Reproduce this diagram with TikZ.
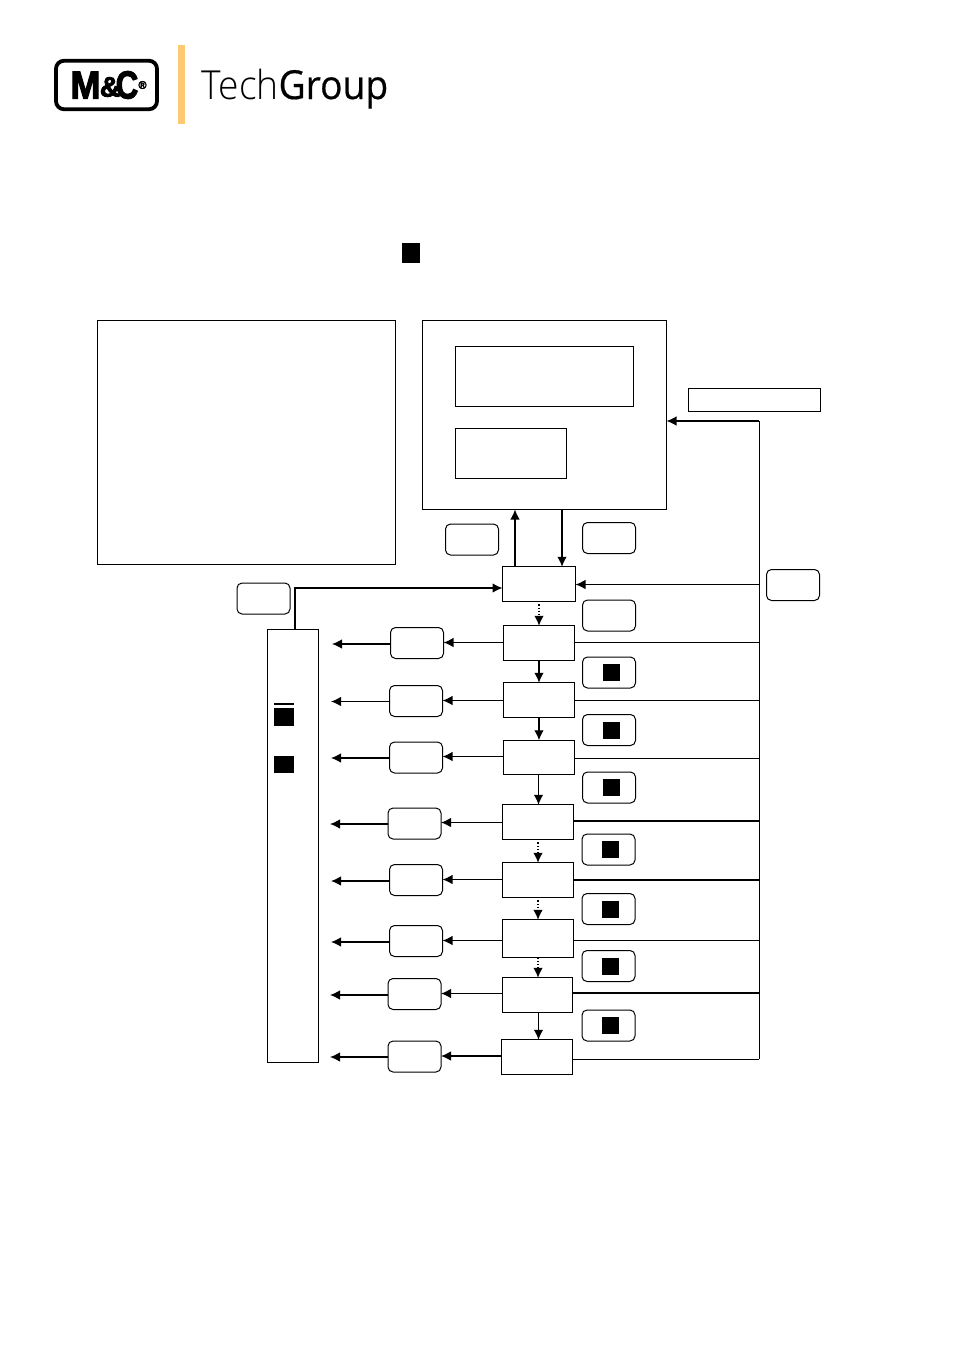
\documentclass[tikz,border=0pt]{standalone}
\usepackage{fontspec}
\usetikzlibrary{arrows.meta}
\newfontfamily\logofont[BoldFeatures={FakeBold=3}]{Liberation Sans}
\newfontfamily\techfont{Open Sans Light}
\newfontfamily\groupfont[FakeBold=0.5]{Open Sans}
\definecolor{logobar}{HTML}{FFC872}
\tikzset{
  >={Latex[length=10pt,width=9.5pt]},
  stepbox/.style={draw, line width=1pt, minimum width=70.5pt, minimum height=34.5pt, inner sep=0pt, outer sep=0pt},
  frame/.style={draw, line width=0.9pt, inner sep=0pt, outer sep=0pt},
  pill/.style={draw, line width=1pt, rounded corners=5pt, minimum width=53pt, minimum height=31pt, inner sep=0pt, outer sep=0pt},
  blackmark/.style={fill=black, minimum width=17pt, minimum height=17pt, inner sep=0pt, outer sep=0pt},
  flow/.style={->, line width=1.2pt},
  feed/.style={line width=1pt},
  feedthick/.style={line width=1.6pt},
  logoletter/.style={font=\logofont\bfseries\fontsize{39}{39}\selectfont, inner sep=0pt},
}
\begin{document}
\begin{tikzpicture}[x=1pt, y=-1pt]
\useasboundingbox (0,0) rectangle (955,1350);

% logo
\node[draw, line width=3.8pt, rounded corners=8pt, minimum width=101pt, minimum height=48.5pt, inner sep=0pt] (logoframe) at (106.5,85) {};
\node[logoletter, xscale=0.92] (logoM) at (85.5,85) {M};
\node[logoletter, xscale=0.8] (logoC) at (127,85) {C};
\node[logoletter, scale=0.72] (logoamp) at (110,87) {\&};
\node[font=\logofont\bfseries\fontsize{11}{11}\selectfont, inner sep=0pt] (logoreg) at (142.5,85) {®};
\node[fill=logobar, minimum width=7pt, minimum height=79pt, inner sep=0pt] (logobar) at (181.5,84.5) {};
\node[anchor=base west, inner sep=0pt, xscale=0.93, font=\fontsize{40}{40}\selectfont] (logotext) at (201.5,99) {{\techfont Tech}{\groupfont Group}};

% mark above the frames
\node[fill=black, minimum width=18pt, minimum height=20pt, inner sep=0pt] (headmark) at (411,253) {};

% frames
\node[frame, minimum width=298pt, minimum height=244pt] (legend) at (246.5,442.5) {};
\node[frame, minimum width=244pt, minimum height=189pt] (unit) at (544.5,415) {};
\node[frame, minimum width=178pt, minimum height=60pt] (display) at (544.5,376.5) {};
\node[frame, minimum width=111pt, minimum height=50pt] (keys) at (511,453.5) {};
\node[frame, minimum width=132pt, minimum height=23pt] (title) at (754.5,400) {};
\node[frame, minimum width=50.5pt, minimum height=433pt] (outputs) at (292.75,846) {};
\node[fill=black, minimum width=20pt, minimum height=2.5pt, inner sep=0pt] (outbar) at (284,704) {};
\node[fill=black, minimum width=20pt, minimum height=18pt, inner sep=0pt] (outmarka) at (284,717) {};
\node[fill=black, minimum width=20pt, minimum height=17pt, inner sep=0pt] (outmarkb) at (284,764.5) {};

% step boxes
\node[stepbox, minimum width=73pt] (S0) at (539,584) {};
\node[stepbox] (S1) at (539,643) {};
\node[stepbox] (S2) at (539,700) {};
\node[stepbox] (S3) at (539,757.5) {};
\node[stepbox] (S4) at (538,822) {};
\node[stepbox] (S5) at (538,880) {};
\node[stepbox, minimum height=38pt] (S6) at (538,938.75) {};
\node[stepbox, minimum width=70pt] (S7) at (537.5,995) {};
\node[stepbox] (S8) at (537,1057) {};

% keys beside the unit and the bus
\node[pill] (keyup) at (472,539.5) {};
\node[pill] (keydown) at (609,538) {};
\node[pill] (keybus) at (793,585) {};
\node[pill] (keyfeed) at (263.5,598.5) {};
\node[pill] (keynext) at (609,615.5) {};

% keys with a mark
\node[pill] (R1) at (609,672.5) {};
\node[blackmark] (M1) at (611.5,672.5) {};
\node[pill] (R2) at (609,730) {};
\node[blackmark] (M2) at (611.5,730) {};
\node[pill] (R3) at (609,787.5) {};
\node[blackmark] (M3) at (611.5,787.5) {};
\node[pill] (R4) at (608.5,849.5) {};
\node[blackmark] (M4) at (610.5,849.5) {};
\node[pill] (R5) at (608.5,909) {};
\node[blackmark] (M5) at (610.5,909) {};
\node[pill] (R6) at (608.5,966) {};
\node[blackmark] (M6) at (610.5,966) {};
\node[pill] (R7) at (608.5,1025.5) {};
\node[blackmark] (M7) at (610.5,1025.5) {};

% keys on the output side
\node[pill] (L1) at (417,643) {};
\node[pill] (L2) at (416,701) {};
\node[pill] (L3) at (416,757.5) {};
\node[pill] (L4) at (414.5,823.5) {};
\node[pill] (L5) at (416,880) {};
\node[pill] (L6) at (416,941) {};
\node[pill] (L7) at (414.5,994) {};
\node[pill] (L8) at (414.5,1056.5) {};

% free ends of the output arrows
\coordinate (E1) at (332,644);
\coordinate (E2) at (331,701.5);
\coordinate (E3) at (331,758);
\coordinate (E4) at (330,824);
\coordinate (E5) at (331,881);
\coordinate (E6) at (331,942);
\coordinate (E7) at (330,995);
\coordinate (E8) at (330,1057);

% bus on the right
\coordinate (bustop) at (759,421);
\coordinate (busend) at (759,1059);
\draw[feed] (busend) -- (bustop);
\draw[flow] (bustop) -- (bustop -| unit.east);
\draw[flow] (759,584.5) -- (S0.east |- 0,584.5);
\draw[feed] (759,642.5) -- (S1.east |- 0,642.5);
\draw[feed] (759,700.5) -- (S2.east |- 0,700.5);
\draw[feed] (759,758.5) -- (S3.east |- 0,758.5);
\draw[feedthick] (759,821) -- (S4.east |- 0,821);
\draw[feedthick] (759,880) -- (S5.east |- 0,880);
\draw[feed] (759,940.5) -- (S6.east |- 0,940.5);
\draw[feedthick] (759,993) -- (S7.east |- 0,993);
\draw[feed] (busend) -- (busend -| S8.east);

% unit and feed connections
\draw[flow] (S0.north -| 515,0) -- (unit.south -| 515,0);
\draw[flow] (unit.south -| 562,0) -- (S0.north -| 562,0);
\draw[flow] (outputs.north -| 295,0) -- (295,588) -- (S0.west |- 0,588);

% steps from top to bottom
\draw[flow, dotted] (S0.south) -- (S1.north);
\draw[flow] (S1.south) -- (S2.north);
\draw[flow] (S2.south) -- (S3.north);
\draw[flow] (S3.south -| 538.5,0) -- (S4.north -| 538.5,0);
\draw[flow, dotted] (S4.south) -- (S5.north);
\draw[flow, dotted] (S5.south) -- (S6.north);
\draw[flow, dotted] (S6.south) -- (S7.north -| S6.south);
\draw[flow] (S7.south -| 538.5,0) -- (S8.north -| 538.5,0);

% outputs through the keys
\draw[flow] (S1.west |- 0,642.5) -- (L1.east |- 0,642.5);
\draw[flow] (S2.west |- 0,700.5) -- (L2.east |- 0,700.5);
\draw[flow] (S3.west |- 0,756.5) -- (L3.east |- 0,756.5);
\draw[flow] (S4.west |- 0,822.5) -- (L4.east |- 0,822.5);
\draw[flow] (S5.west |- 0,879.5) -- (L5.east |- 0,879.5);
\draw[flow] (S6.west |- 0,940.5) -- (L6.east |- 0,940.5);
\draw[flow] (S7.west |- 0,993.5) -- (L7.east |- 0,993.5);
\draw[flow] (S8.west |- 0,1056) -- (L8.east |- 0,1056);
\draw[flow] (L1.west |- E1) -- (E1);
\draw[flow] (L2.west |- E2) -- (E2);
\draw[flow] (L3.west |- E3) -- (E3);
\draw[flow] (L4.west |- E4) -- (E4);
\draw[flow] (L5.west |- E5) -- (E5);
\draw[flow] (L6.west |- E6) -- (E6);
\draw[flow] (L7.west |- E7) -- (E7);
\draw[flow] (L8.west |- E8) -- (E8);
\end{tikzpicture}
\end{document}
